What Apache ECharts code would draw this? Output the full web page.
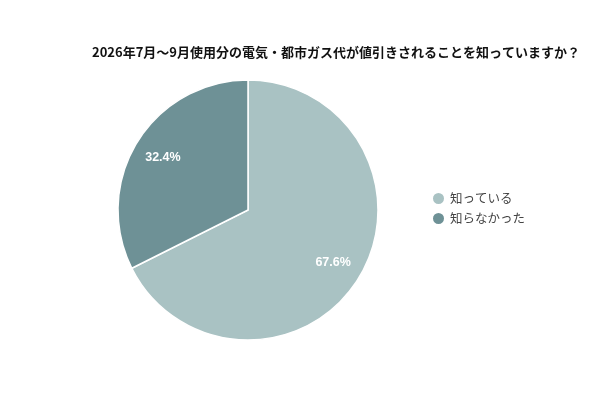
<!DOCTYPE html>
<html>
<head>
<meta charset="utf-8">
<script src="https://cdn.jsdelivr.net/npm/echarts@6/dist/echarts.min.js"></script>
<style>
  html, body { margin: 0; padding: 0; background: #fff; }
  #main { width: 600px; height: 400px; }
</style>
</head>
<body>
<div id="main"></div>
<script>
// データ
var categories = ['知っている', '知らなかった'];
var values = [67.6, 32.4];
var colors = ['#a9c2c3', '#6e9196'];

var pieData = categories.map(function (name, i) {
  return { name: name, value: values[i], itemStyle: { color: colors[i] } };
});
// ラベル用の透明な重ね
var labelData = categories.map(function (name, i) {
  return { name: name, value: values[i], itemStyle: { color: 'rgba(0,0,0,0)' } };
});

var myChart = echarts.init(document.getElementById('main'));
var option = {
  backgroundColor: '#fff',
  title: {
    text: '2026年7月～9月使用分の電気・都市ガス代が値引きされることを知っていますか？',
    left: 331,
    textAlign: 'center',
    top: 41,
    textStyle: {
      fontFamily: 'Noto Sans CJK JP',
      fontSize: 13,
      fontWeight: 'bold',
      color: '#111'
    }
  },
  legend: {
    orient: 'vertical',
    left: 426,
    top: 186,
    icon: 'circle',
    itemWidth: 13,
    itemHeight: 13,
    itemGap: 5,
    data: categories,
    textStyle: { fontFamily: 'Noto Sans CJK JP', fontSize: 12.5, color: '#444' }
  },
  series: [{
    type: 'pie',
    center: [248, 210],
    radius: [0, 130],
    startAngle: 90,
    clockwise: true,
    silent: true,
    label: { show: false },
    labelLine: { show: false },
    itemStyle: { borderColor: '#fff', borderWidth: 1.5 },
    data: pieData
  }, {
    type: 'pie',
    center: [248, 210],
    radius: [60, 134],
    startAngle: 90,
    clockwise: true,
    silent: true,
    legendHoverLink: false,
    label: {
      show: true,
      position: 'inside',
      formatter: function (p) { return p.value.toFixed(1) + '%'; },
      color: '#fff',
      fontFamily: 'Liberation Sans',
      fontSize: 12.5,
      fontWeight: 'bold'
    },
    labelLine: { show: false },
    data: labelData
  }]
};
myChart.setOption(option);
</script>
</body>
</html>
